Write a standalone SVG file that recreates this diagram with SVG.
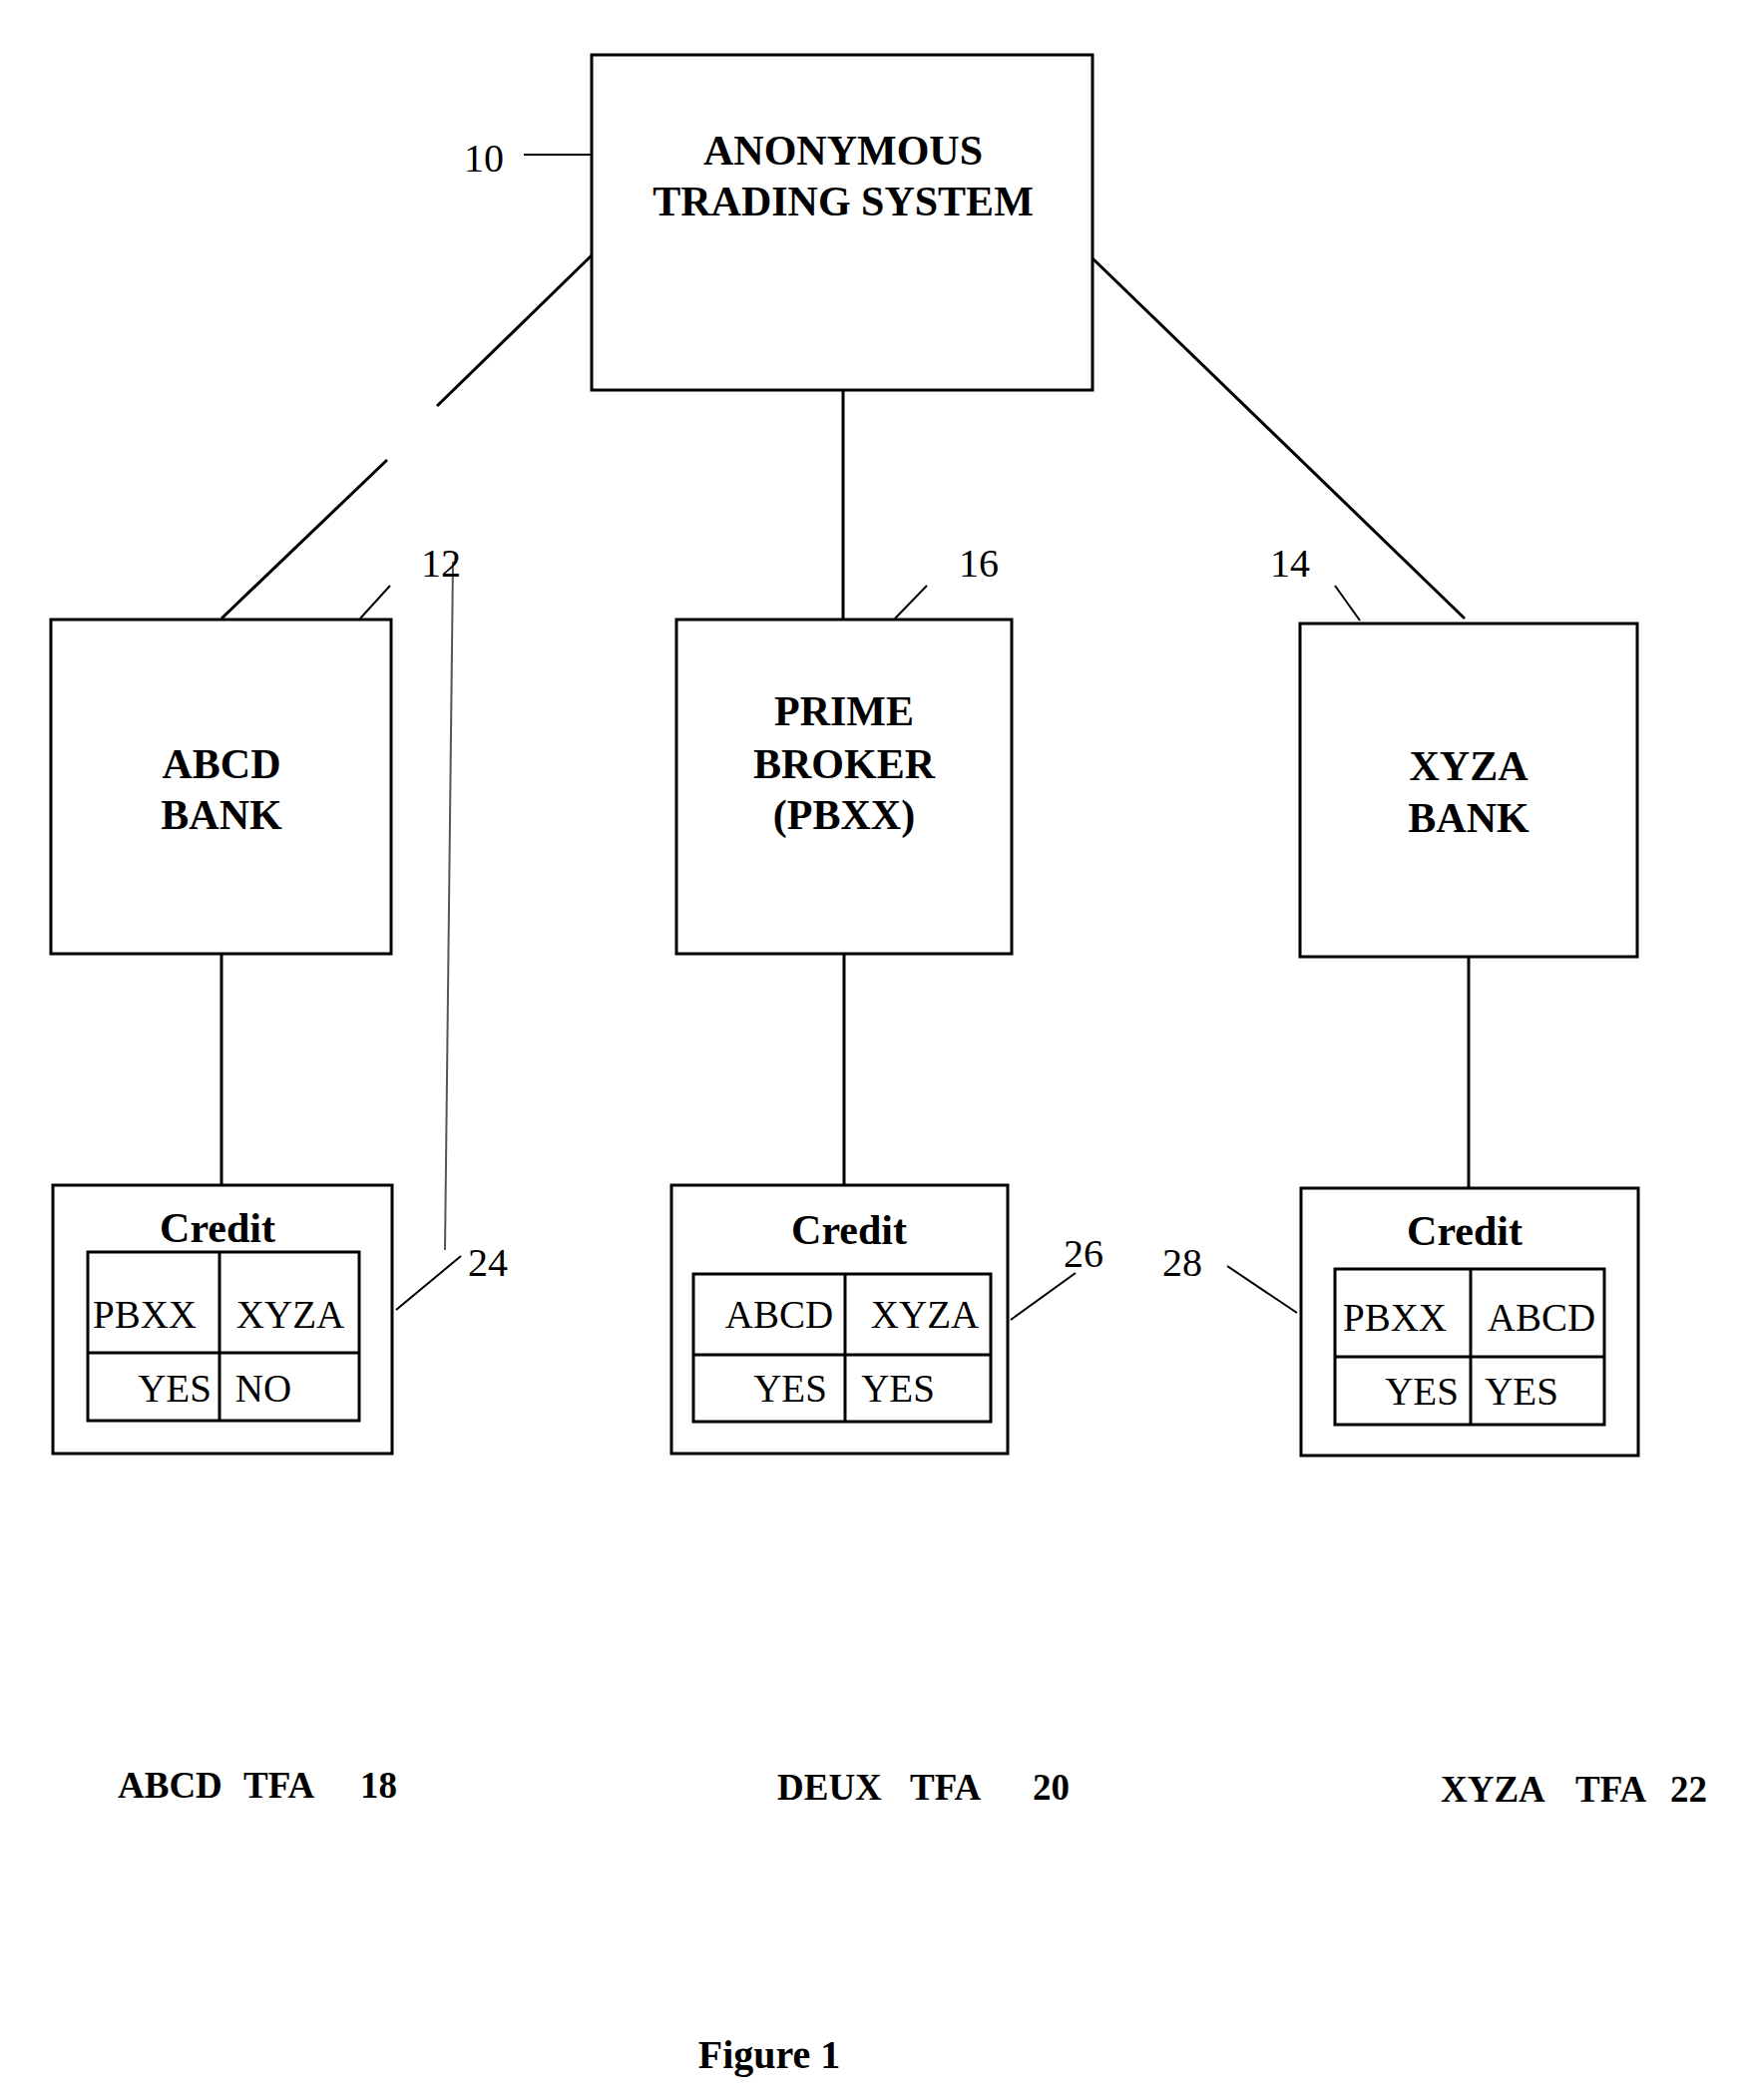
<svg xmlns="http://www.w3.org/2000/svg" width="1751" height="2105" viewBox="0 0 1751 2105">
<style>
rect{fill:none;stroke:#000;stroke-width:3}
line{stroke:#000;stroke-width:3}
text{font-family:"Liberation Serif",serif;fill:#000;text-anchor:middle}
.b{font-weight:bold;font-size:42px}
.n{font-size:40px}
.c{font-size:39px}
.t{font-weight:bold;font-size:37px;text-anchor:start}
</style>
<rect width="1751" height="2105" style="fill:#fff;stroke:none"/>
<g id="connectors">
<line x1="593" y1="256" x2="438" y2="407"/>
<line x1="388" y1="461" x2="222" y2="620"/>
<line x1="845" y1="391" x2="845" y2="620"/>
<line x1="1095" y1="259" x2="1468" y2="620"/>
<line x1="222" y1="956" x2="222" y2="1188"/>
<line x1="846" y1="956" x2="846" y2="1188"/>
<line x1="1472" y1="959" x2="1472" y2="1191"/>
<line x1="525" y1="155" x2="593" y2="155" style="stroke-width:2"/>
<line x1="361" y1="620" x2="391" y2="587" style="stroke-width:2"/>
<line x1="897" y1="620" x2="929" y2="587" style="stroke-width:2"/>
<line x1="1338" y1="587" x2="1363" y2="622" style="stroke-width:2"/>
<line x1="454" y1="563" x2="446" y2="1253" style="stroke-width:2;stroke:#555"/>
<line x1="397" y1="1313" x2="462" y2="1259" style="stroke-width:2"/>
<line x1="1013" y1="1323" x2="1078" y2="1276" style="stroke-width:2"/>
<line x1="1230" y1="1269" x2="1300" y2="1316" style="stroke-width:2"/>
</g>
<g id="ats">
<rect x="593" y="55" width="502" height="336"/>
<text class="b" x="845" y="165">ANONYMOUS</text>
<text class="b" x="845" y="216">TRADING SYSTEM</text>
<text class="n" x="485" y="172">10</text>
</g>
<g id="abcd">
<rect x="51" y="621" width="341" height="335"/>
<text class="b" x="222" y="780">ABCD</text>
<text class="b" x="222" y="831">BANK</text>
<text class="n" x="442" y="578">12</text>
</g>
<g id="pb">
<rect x="678" y="621" width="336" height="335"/>
<text class="b" x="846" y="727">PRIME</text>
<text class="b" x="846" y="780">BROKER</text>
<text class="b" x="846" y="831">(PBXX)</text>
<text class="n" x="981" y="578">16</text>
</g>
<g id="xyza">
<rect x="1303" y="625" width="338" height="334"/>
<text class="b" x="1472" y="782">XYZA</text>
<text class="b" x="1472" y="834">BANK</text>
<text class="n" x="1293" y="578">14</text>
</g>
<g id="credit24">
<rect x="53" y="1188" width="340" height="269"/>
<rect x="88" y="1255" width="272" height="169"/>
<line x1="88" y1="1356" x2="360" y2="1356"/>
<line x1="220" y1="1255" x2="220" y2="1424"/>
<text class="b" x="218" y="1245">Credit</text>
<text class="c" x="145" y="1331">PBXX</text>
<text class="c" x="291" y="1331">XYZA</text>
<text class="c" x="175" y="1405">YES</text>
<text class="c" x="264" y="1405">NO</text>
<text class="n" x="489" y="1279">24</text>
</g>
<g id="credit26">
<rect x="673" y="1188" width="337" height="269"/>
<rect x="695" y="1277" width="298" height="148"/>
<line x1="695" y1="1358" x2="993" y2="1358"/>
<line x1="847" y1="1277" x2="847" y2="1425"/>
<text class="b" x="851" y="1247">Credit</text>
<text class="c" x="781" y="1331">ABCD</text>
<text class="c" x="927" y="1331">XYZA</text>
<text class="c" x="792" y="1405">YES</text>
<text class="c" x="900" y="1405">YES</text>
<text class="n" x="1086" y="1270">26</text>
</g>
<g id="credit28">
<rect x="1304" y="1191" width="338" height="268"/>
<rect x="1338" y="1272" width="270" height="156"/>
<line x1="1338" y1="1360" x2="1608" y2="1360"/>
<line x1="1474" y1="1272" x2="1474" y2="1428"/>
<text class="b" x="1468" y="1248">Credit</text>
<text class="c" x="1398" y="1334">PBXX</text>
<text class="c" x="1545" y="1334">ABCD</text>
<text class="c" x="1425" y="1408">YES</text>
<text class="c" x="1525" y="1408">YES</text>
<text class="n" x="1185" y="1279">28</text>
</g>
<g id="labels">
<text class="t" y="1802"><tspan x="118">ABCD</tspan><tspan x="244">TFA</tspan><tspan x="361">18</tspan></text>
<text class="t" y="1804"><tspan x="779">DEUX</tspan><tspan x="912">TFA</tspan><tspan x="1035">20</tspan></text>
<text class="t" y="1806"><tspan x="1444">XYZA</tspan><tspan x="1579">TFA</tspan><tspan x="1674">22</tspan></text>
<text x="771" y="2073" style="font-weight:bold;font-size:40px">Figure 1</text>
</g>
</svg>
